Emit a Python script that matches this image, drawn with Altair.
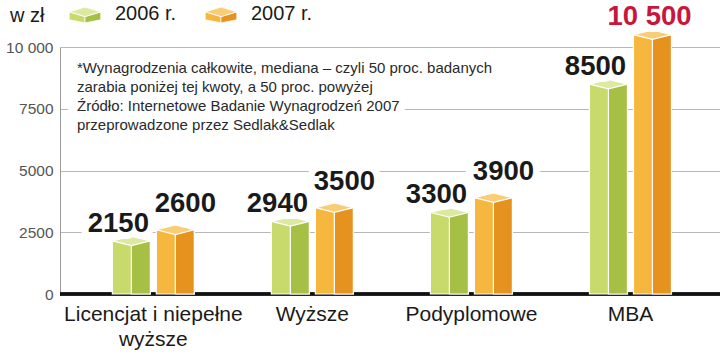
import altair as alt
import pandas as pd

# ---- data ----
categories = ["Licencjat i niepełne wyższe", "Wyższe", "Podyplomowe", "MBA"]
values_2006 = [2150, 2940, 3300, 8500]
values_2007 = [2600, 3500, 3900, 10500]
series = ["2006 r.", "2007 r."]
y_ticks = [0, 2500, 5000, 7500, 10000]
note_lines = [
    "*Wynagrodzenia całkowite, mediana – czyli 50 proc. badanych",
    "zarabia poniżej tej kwoty, a 50 proc. powyżej",
    "Źródło: Internetowe Badanie Wynagrodzeń 2007",
    "przeprowadzone przez Sedlak&Sedlak",
]
unit_label = "w zł"


def fmt(v):
    return f"{v:,}".replace(",", " ") if v >= 10000 else str(v)


rows = []
for s, vals in zip(series, [values_2006, values_2007]):
    for c, v in zip(categories, vals):
        rows.append({"kategoria": c, "rok": s, "wartosc": v, "etykieta": fmt(v)})
df = pd.DataFrame(rows)
one = pd.DataFrame({"k": [0]})

W, H = 660, 247
FONT = "Liberation Sans"

G_LEFT, G_RIGHT, G_TOP = "#c8da6c", "#a6bf45", "#dde9a0"
O_LEFT, O_RIGHT, O_TOP = "#f5b73e", "#e6921f", "#f9cd76"
RED = "#c8173c"

is2006 = alt.datum.rok == "2006 r."

x = alt.X(
    "kategoria:N",
    sort=categories,
    scale=alt.Scale(type="band", paddingInner=0.45, paddingOuter=0.3, align=0.52),
    axis=alt.Axis(
        title=None, labelFontSize=21, labelColor="#1a1a1a", labelFont=FONT,
        labelAngle=0, domain=False, ticks=False, labelPadding=9,
        labelLineHeight=25, labelLimit=400,
        labelExpr="datum.label == 'Licencjat i niepełne wyższe' ? ['Licencjat i niepełne', 'wyższe'] : datum.label",
    ),
)
# offset scale for whole bars (each bar ~38 px wide)
xo = alt.XOffset("rok:N", sort=series,
                 scale=alt.Scale(type="band", paddingInner=0.136,
                                 paddingOuter=0.062, align=0.5))
# offset scale covering only the right half of each bar (darker side face)
xo_side = alt.XOffset("rok:N", sort=series,
                      scale=alt.Scale(type="band", paddingInner=0.568,
                                      paddingOuter=0.278, align=0.887))
y = alt.Y(
    "wartosc:Q",
    scale=alt.Scale(domain=[0, 10000], nice=False, clamp=False),
    axis=alt.Axis(
        values=y_ticks, title=None, grid=True, gridColor="#b8b8b8", gridWidth=1,
        domainColor="#9a9a9a", domainWidth=1, ticks=False, labelFontSize=15.5,
        labelFont=FONT, labelColor="#555555", labelPadding=7,
        labelExpr="datum.value >= 10000 ? '10 000' : datum.value + ''",
    ),
)

base = alt.Chart(df)

baseline = base.mark_rule(color="#111111", strokeWidth=2.5).encode(
    y=alt.datum(0)
)

front = base.mark_bar(stroke="white", strokeWidth=1.2).encode(
    x=x, xOffset=xo, y=y, y2=alt.value(H + 4),
    color=alt.condition(is2006, alt.value(G_LEFT), alt.value(O_LEFT)),
)
side = base.mark_bar(stroke="white", strokeWidth=1.2).encode(
    x=x, xOffset=xo_side, y=y, y2=alt.value(H + 4),
    color=alt.condition(is2006, alt.value(G_RIGHT), alt.value(O_RIGHT)),
)
TOP_PATH = "M-1,0L0,-0.25L1,0L0,0.25Z"
top = base.mark_point(shape=TOP_PATH, size=1444, filled=True, opacity=1,
                      stroke="white", strokeWidth=1.2).encode(
    x=x, xOffset=xo, y=y,
    fill=alt.condition(is2006, alt.value(G_TOP), alt.value(O_TOP)),
)


def labels(flt, dx, dy, color):
    layers = []
    for halo in (True, False):
        kw = dict(align="center", baseline="alphabetic", dx=dx, dy=dy,
                  fontSize=27.5, fontWeight="bold", font=FONT)
        if halo:
            kw.update(stroke="white", strokeWidth=14, color="white")
        else:
            kw.update(color=color)
        layers.append(
            base.mark_text(**kw).encode(
                x=x, xOffset=xo, y=y, text="etykieta:N",
                opacity=alt.condition(flt, alt.value(1), alt.value(0)),
            )
        )
    return layers


lab = []
lab += labels("datum.rok == '2006 r.'", -13, -9, "#1a1a1a")
lab += labels("datum.rok == '2007 r.' && datum.wartosc < 10000", 10, -18, "#1a1a1a")
lab += labels("datum.wartosc >= 10000", -3, -10, RED)

note_halo = alt.Chart(one).mark_text(
    text=note_lines, align="left", baseline="top", fontSize=15, lineHeight=19,
    font=FONT, color="white", stroke="white", strokeWidth=18,
).encode(x=alt.value(17), y=alt.value(14))
note = alt.Chart(one).mark_text(
    text=note_lines, align="left", baseline="top", fontSize=15, lineHeight=19,
    font=FONT, color="#2a2a2a",
).encode(x=alt.value(17), y=alt.value(14))

# ---- header legend ----
unit = alt.Chart(one).mark_text(
    text=unit_label, align="left", baseline="middle", fontSize=20, font=FONT,
    color="#1a1a1a",
).encode(x=alt.value(-50), y=alt.value(-31))

LEG_TOP = "M-1,-0.2L0,-0.5L1,-0.2L0,0.1Z"
LEG_LEFT = "M-1,-0.2L0,0.1L0,0.5L-1,0.3Z"
LEG_RIGHT = "M0,0.1L1,-0.2L1,0.3L0,0.5Z"


def leg_item(name, px, cl, cr, ct):
    parts = []
    for path, col in ((LEG_LEFT, cl), (LEG_RIGHT, cr), (LEG_TOP, ct)):
        parts.append(alt.Chart(one).mark_point(
            shape=path, size=1000, filled=True, opacity=1, fill=col,
            stroke="white", strokeWidth=0.8,
        ).encode(x=alt.value(px), y=alt.value(-32)))
    parts.append(alt.Chart(one).mark_text(
        text=name, align="left", baseline="middle", fontSize=20, font=FONT,
        color="#1a1a1a",
    ).encode(x=alt.value(px + 30), y=alt.value(-33)))
    return parts


leg = leg_item(series[0], 25, G_LEFT, G_RIGHT, G_TOP) + \
    leg_item(series[1], 161, O_LEFT, O_RIGHT, O_TOP)

chart = alt.layer(
    baseline, front, side, top, *lab, note_halo, note, unit, *leg
).resolve_scale(xOffset="independent").properties(
    width=W, height=H,
    autosize=alt.AutoSizeParams(type="none"),
    padding={"left": 60, "top": 47, "right": 0, "bottom": 60},
).configure_view(stroke=None)

chart.save("out.html", embed_options={"renderer": "svg", "actions": False})
